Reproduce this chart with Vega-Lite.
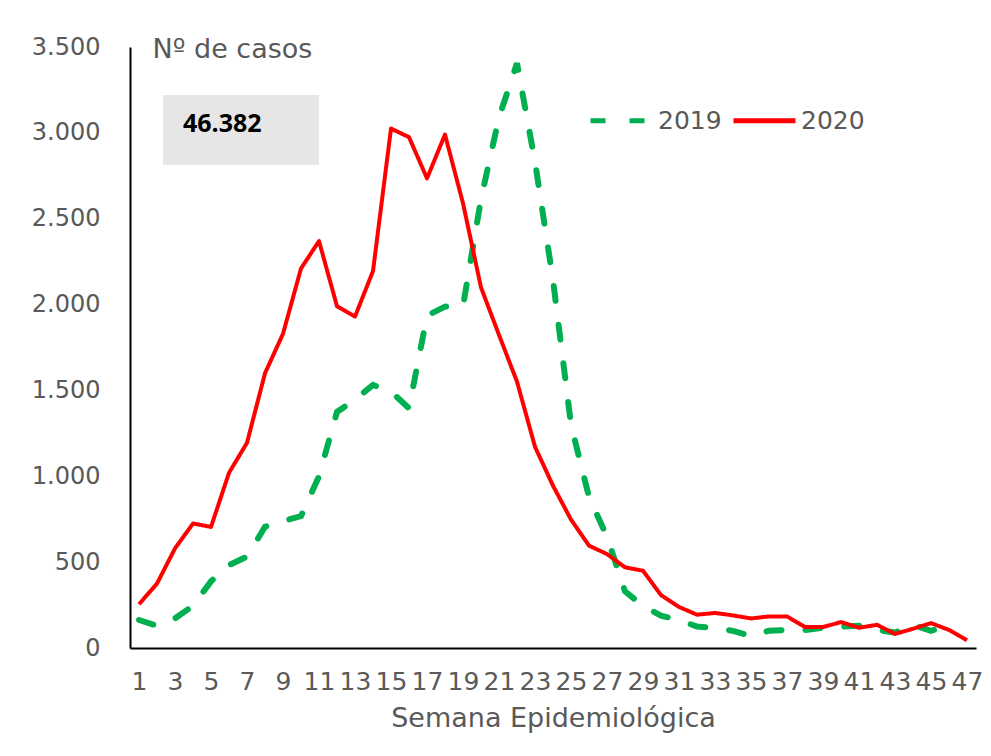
{
  "$schema": "https://vega.github.io/schema/vega-lite/v6.json",
  "width": 846,
  "height": 601,
  "autosize": {"type": "none"},
  "padding": {"left": 130, "top": 47, "right": 15, "bottom": 108},
  "background": "white",
  "config": {
    "view": {"stroke": null},
    "font": "DejaVu Sans",
    "axis": {"labelFont": "DejaVu Sans", "titleFont": "DejaVu Sans", "labelColor": "#595959", "titleColor": "#595959", "titleFontWeight": "normal", "domainColor": "#000000", "domainWidth": 2, "ticks": false, "tickSize": 0, "grid": false, "labelOverlap": false},
    "axisX": {"labelOverlap": false, "labelFlush": false},
    "legend": {"labelFont": "DejaVu Sans", "labelColor": "#595959"}
  },
  "layer": [
    {
      "data": {"name": "cases"},
      "transform": [{"filter": "datum.year === '2019'"}],
      "mark": {"type": "line", "strokeWidth": 6, "strokeCap": "round"},
      "encoding": {
        "x": {"field": "week", "type": "quantitative", "scale": {"domain": [0.5, 47.5], "nice": false, "zero": false},
          "axis": {"title": "Semana Epidemiológica", "values": [1,3,5,7,9,11,13,15,17,19,21,23,25,27,29,31,33,35,37,39,41,43,45,47], "tickCount": 60, "labelFontSize": 25, "labelPadding": 21, "labelOverlap": false, "titleFontSize": 27, "titlePadding": 11, "labelFlush": false}},
        "y": {"field": "cases", "type": "quantitative", "scale": {"domain": [0, 3500], "nice": false},
          "axis": {"values": [0,500,1000,1500,2000,2500,3000,3500], "tickCount": 20, "labelExpr": "replace(format(datum.value, ','), ',', '.')", "labelFontSize": 24, "labelPadding": 30, "labelFlush": false, "title": "Nº de casos", "titleAngle": 0, "titleAlign": "left", "titleBaseline": "top", "titleX": 22, "titleY": -11, "titleFontSize": 27}},
        "color": {"field": "year", "type": "nominal", "scale": {"domain": ["2019", "2020"], "range": ["#00B050", "#FF0000"]},
          "legend": {"title": null, "orient": "none", "legendX": 458, "legendY": 40, "direction": "horizontal", "symbolType": "stroke", "symbolSize": 3844, "symbolStrokeWidth": 5, "labelFontSize": 25, "labelOffset": 3, "columnPadding": 1}},
        "strokeDash": {"field": "year", "type": "nominal", "scale": {"domain": ["2019", "2020"], "range": [[15, 24], [1, 0]]}}
      }
    },
    {
      "data": {"name": "cases"},
      "transform": [{"filter": "datum.year === '2020'"}],
      "mark": {"type": "line", "strokeWidth": 4, "strokeJoin": "round"},
      "encoding": {
        "x": {"field": "week", "type": "quantitative"},
        "y": {"field": "cases", "type": "quantitative"},
        "color": {"field": "year", "type": "nominal"},
        "strokeDash": {"field": "year", "type": "nominal"}
      }
    },
    {
      "data": {"values": [{"label": "46.382"}]},
      "mark": {"type": "rect", "color": "#e6e6e6"},
      "encoding": {
        "x": {"datum": 2.33, "type": "quantitative"},
        "x2": {"datum": 11.0},
        "y": {"datum": 3220, "type": "quantitative"},
        "y2": {"datum": 2813}
      }
    },
    {
      "data": {"values": [{"label": "46.382"}]},
      "mark": {"type": "text", "font": "Open Sans", "fontWeight": "bold", "fontSize": 25, "align": "left", "baseline": "middle", "color": "#000000"},
      "encoding": {
        "x": {"datum": 3.44, "type": "quantitative"},
        "y": {"datum": 3050, "type": "quantitative"},
        "text": {"field": "label"}
      }
    }
  ],
  "datasets": {
    "cases": [
      {"week": 1, "year": "2019", "cases": 163},
      {"week": 2, "year": "2019", "cases": 130},
      {"week": 3, "year": "2019", "cases": 172},
      {"week": 4, "year": "2019", "cases": 246},
      {"week": 5, "year": "2019", "cases": 388},
      {"week": 6, "year": "2019", "cases": 483},
      {"week": 7, "year": "2019", "cases": 532},
      {"week": 8, "year": "2019", "cases": 706},
      {"week": 9, "year": "2019", "cases": 738},
      {"week": 10, "year": "2019", "cases": 768},
      {"week": 11, "year": "2019", "cases": 1000},
      {"week": 12, "year": "2019", "cases": 1375},
      {"week": 13, "year": "2019", "cases": 1446},
      {"week": 14, "year": "2019", "cases": 1532},
      {"week": 15, "year": "2019", "cases": 1493},
      {"week": 16, "year": "2019", "cases": 1396},
      {"week": 17, "year": "2019", "cases": 1935},
      {"week": 18, "year": "2019", "cases": 1988},
      {"week": 19, "year": "2019", "cases": 1990},
      {"week": 20, "year": "2019", "cases": 2615},
      {"week": 21, "year": "2019", "cases": 3090},
      {"week": 22, "year": "2019", "cases": 3405},
      {"week": 23, "year": "2019", "cases": 2832},
      {"week": 24, "year": "2019", "cases": 2143},
      {"week": 25, "year": "2019", "cases": 1300},
      {"week": 26, "year": "2019", "cases": 880},
      {"week": 27, "year": "2019", "cases": 648},
      {"week": 28, "year": "2019", "cases": 330},
      {"week": 29, "year": "2019", "cases": 245},
      {"week": 30, "year": "2019", "cases": 188},
      {"week": 31, "year": "2019", "cases": 163},
      {"week": 32, "year": "2019", "cases": 125},
      {"week": 33, "year": "2019", "cases": 116},
      {"week": 34, "year": "2019", "cases": 100},
      {"week": 35, "year": "2019", "cases": 70},
      {"week": 36, "year": "2019", "cases": 101},
      {"week": 37, "year": "2019", "cases": 105},
      {"week": 38, "year": "2019", "cases": 105},
      {"week": 39, "year": "2019", "cases": 118},
      {"week": 40, "year": "2019", "cases": 124},
      {"week": 41, "year": "2019", "cases": 130},
      {"week": 42, "year": "2019", "cases": 105},
      {"week": 43, "year": "2019", "cases": 90},
      {"week": 44, "year": "2019", "cases": 134},
      {"week": 45, "year": "2019", "cases": 100},
      {"week": 46, "year": "2019", "cases": 130},
      {"week": 1, "year": "2020", "cases": 255},
      {"week": 2, "year": "2020", "cases": 375},
      {"week": 3, "year": "2020", "cases": 580},
      {"week": 4, "year": "2020", "cases": 725},
      {"week": 5, "year": "2020", "cases": 705},
      {"week": 6, "year": "2020", "cases": 1020},
      {"week": 7, "year": "2020", "cases": 1195},
      {"week": 8, "year": "2020", "cases": 1600},
      {"week": 9, "year": "2020", "cases": 1830},
      {"week": 10, "year": "2020", "cases": 2210},
      {"week": 11, "year": "2020", "cases": 2370},
      {"week": 12, "year": "2020", "cases": 1990},
      {"week": 13, "year": "2020", "cases": 1930},
      {"week": 14, "year": "2020", "cases": 2195},
      {"week": 15, "year": "2020", "cases": 3025},
      {"week": 16, "year": "2020", "cases": 2975},
      {"week": 17, "year": "2020", "cases": 2735},
      {"week": 18, "year": "2020", "cases": 2990},
      {"week": 19, "year": "2020", "cases": 2590},
      {"week": 20, "year": "2020", "cases": 2100},
      {"week": 21, "year": "2020", "cases": 1823},
      {"week": 22, "year": "2020", "cases": 1551},
      {"week": 23, "year": "2020", "cases": 1172},
      {"week": 24, "year": "2020", "cases": 945},
      {"week": 25, "year": "2020", "cases": 748},
      {"week": 26, "year": "2020", "cases": 596},
      {"week": 27, "year": "2020", "cases": 547},
      {"week": 28, "year": "2020", "cases": 470},
      {"week": 29, "year": "2020", "cases": 450},
      {"week": 30, "year": "2020", "cases": 308},
      {"week": 31, "year": "2020", "cases": 239},
      {"week": 32, "year": "2020", "cases": 194},
      {"week": 33, "year": "2020", "cases": 204},
      {"week": 34, "year": "2020", "cases": 190},
      {"week": 35, "year": "2020", "cases": 172},
      {"week": 36, "year": "2020", "cases": 184},
      {"week": 37, "year": "2020", "cases": 184},
      {"week": 38, "year": "2020", "cases": 122},
      {"week": 39, "year": "2020", "cases": 122},
      {"week": 40, "year": "2020", "cases": 151},
      {"week": 41, "year": "2020", "cases": 118},
      {"week": 42, "year": "2020", "cases": 135},
      {"week": 43, "year": "2020", "cases": 82},
      {"week": 44, "year": "2020", "cases": 112},
      {"week": 45, "year": "2020", "cases": 145},
      {"week": 46, "year": "2020", "cases": 105},
      {"week": 47, "year": "2020", "cases": 45}
    ]
  }
}
